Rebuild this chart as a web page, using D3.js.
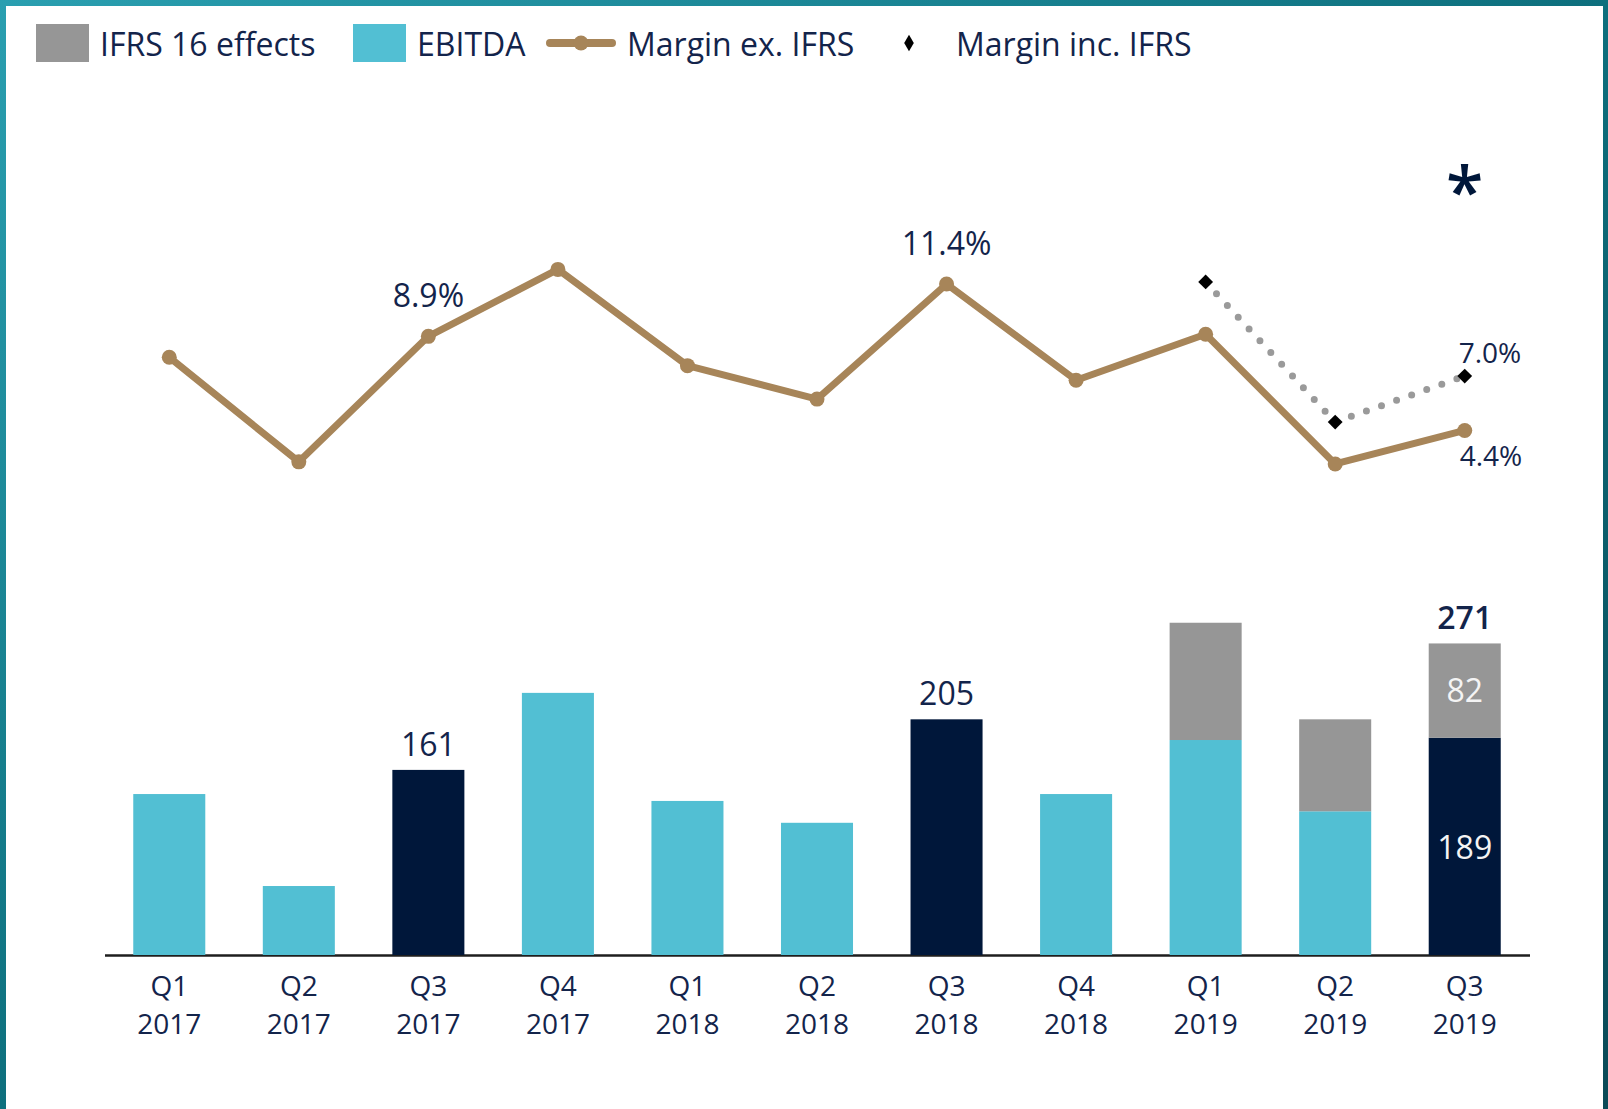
<!DOCTYPE html>
<html>
<head>
<meta charset="utf-8">
<script src="https://cdn.jsdelivr.net/npm/d3@7"></script>
<style>
  html, body { margin: 0; padding: 0; background: #0b5d6b; overflow: hidden; }
  svg { display: block; font-family: "Open Sans", "Noto Sans", sans-serif; }
</style>
</head>
<body>
<script>
'use strict';

// quarters on the x axis
const quarters = ["Q1", "Q2", "Q3", "Q4", "Q1", "Q2", "Q3", "Q4", "Q1", "Q2", "Q3"];
const years = ["2017", "2017", "2017", "2017", "2018", "2018", "2018", "2018", "2019", "2019", "2019"];

// bar values
const ebitda = [140, 60, 161, 228, 134, 115, 205, 140, 187, 125, 189];
const ifrsEffects = [0, 0, 0, 0, 0, 0, 0, 0, 102, 80, 82];

// margin lines (%)
const marginEx = [7.9, 2.9, 8.9, 12.1, 7.5, 5.9, 11.4, 6.8, 9.0, 2.8, 4.4];
const marginInc = [null, null, null, null, null, null, null, null, 11.5, 4.8, 7.0];

// legend entries
const legendNames = ["IFRS 16 effects", "EBITDA", "Margin ex. IFRS", "Margin inc. IFRS"];

(function() {

  let svgContainer = ""; // keep SVG reference in scope

  const colors = {
    ifrs: "#969696",
    ebitda: "#52BFD3",
    highlight: "#00173A",
    margin: "#A78559",
    dots: "#9A9A9A",
    text: "#13244B"
  };

  const keys = quarters.map((q, i) => q + " " + years[i]);

  window.onload = function() {
    svgContainer = d3.select('body')
      .append('svg')
      .attr('width', 1608)
      .attr('height', 1109);

    drawBackground();
    let scales = drawAxes();
    plotBars(scales);
    plotLines(scales);
    makeLegend();
  }

  // teal frame with white panel
  function drawBackground() {
    let grad = svgContainer.append('defs').append('linearGradient')
      .attr('id', 'sea')
      .attr('x1', 0).attr('y1', 0).attr('x2', 1).attr('y2', 1);
    grad.append('stop').attr('offset', '0%').attr('stop-color', '#2a9fb0');
    grad.append('stop').attr('offset', '50%').attr('stop-color', '#0d6f7d');
    grad.append('stop').attr('offset', '100%').attr('stop-color', '#0a4a57');

    svgContainer.append('rect')
      .attr('width', 1608).attr('height', 1109)
      .attr('fill', 'url(#sea)');

    svgContainer.append('rect')
      .attr('x', 6).attr('y', 6)
      .attr('width', 1597).attr('height', 1103)
      .attr('fill', '#ffffff');
  }

  // scales + baseline + category labels
  function drawAxes() {
    let xScale = d3.scaleBand()
      .domain(keys)
      .range([104.5, 1529.5])
      .paddingInner(0.444)
      .paddingOuter(0.222);

    let yBar = d3.scaleLinear()
      .domain([0, 300])
      .range([955, 610.1]);

    let yLine = d3.scaleLinear()
      .domain([0, 12])
      .range([522.5, 271.5]);

    let xAxis = d3.axisBottom(xScale).tickSize(0).tickFormat('');
    let axisG = svgContainer.append('g')
      .attr('transform', 'translate(0, 955)')
      .call(xAxis);
    axisG.select('.domain')
      .attr('stroke', '#1e1e1e')
      .attr('stroke-width', 2.5);

    // two-line tick labels
    let ticks = svgContainer.append('g').selectAll('text.tick')
      .data(keys)
      .enter()
      .append('text')
      .attr('text-anchor', 'middle')
      .attr('fill', colors.text)
      .style('font-size', '28px')
      .attr('transform', (d) => 'translate(' + (xScale(d) + xScale.bandwidth() / 2) + ',0)');
    ticks.append('tspan').attr('x', 0).attr('y', 996).text((d, i) => quarters[i]);
    ticks.append('tspan').attr('x', 0).attr('y', 1034).text((d, i) => years[i]);

    return { x: xScale, yBar: yBar, yLine: yLine };
  }

  function plotBars(s) {
    let cx = (i) => s.x(keys[i]) + s.x.bandwidth() / 2;
    let rows = keys.map((k, i) => ({ key: k, i: i, e: ebitda[i], f: ifrsEffects[i] }));

    // EBITDA bars
    svgContainer.append('g').selectAll('rect')
      .data(rows)
      .enter()
      .append('rect')
        .attr('x', (d) => s.x(d.key))
        .attr('width', s.x.bandwidth())
        .attr('y', (d) => s.yBar(d.e))
        .attr('height', (d) => s.yBar(0) - s.yBar(d.e))
        .attr('fill', (d) => quarters[d.i] === "Q3" ? colors.highlight : colors.ebitda);

    // IFRS 16 stacked on top
    svgContainer.append('g').selectAll('rect')
      .data(rows.filter((d) => d.f > 0))
      .enter()
      .append('rect')
        .attr('x', (d) => s.x(d.key))
        .attr('width', s.x.bandwidth())
        .attr('y', (d) => s.yBar(d.e + d.f))
        .attr('height', (d) => s.yBar(d.e) - s.yBar(d.e + d.f))
        .attr('fill', colors.ifrs);

    // totals above the Q3 bars
    let q3 = rows.filter((d) => quarters[d.i] === "Q3");
    svgContainer.append('g').selectAll('text')
      .data(q3)
      .enter()
      .append('text')
        .attr('x', (d) => cx(d.i))
        .attr('y', (d) => s.yBar(d.e + d.f) - 14)
        .attr('text-anchor', 'middle')
        .attr('fill', colors.text)
        .style('font-size', '32px')
        .style('font-weight', (d) => d.f > 0 ? 600 : 'normal')
        .text((d) => d.e + d.f);

    // split values inside the last bar
    let last = rows.filter((d) => quarters[d.i] === "Q3" && d.f > 0);
    svgContainer.append('g').selectAll('text')
      .data(last)
      .enter()
      .append('text')
        .attr('x', (d) => cx(d.i))
        .attr('y', (d) => (s.yBar(d.e) + s.yBar(d.e + d.f)) / 2 + 11.5)
        .attr('text-anchor', 'middle')
        .attr('fill', '#f4f4f4')
        .style('font-size', '32px')
        .text((d) => d.f);
    svgContainer.append('g').selectAll('text')
      .data(last)
      .enter()
      .append('text')
        .attr('x', (d) => cx(d.i))
        .attr('y', (d) => (s.yBar(0) + s.yBar(d.e)) / 2 + 13)
        .attr('text-anchor', 'middle')
        .attr('fill', '#f4f4f4')
        .style('font-size', '32px')
        .text((d) => d.e);
  }

  function plotLines(s) {
    let cx = (i) => s.x(keys[i]) + s.x.bandwidth() / 2;
    let fmt = (v) => d3.format('.1f')(v) + '%';

    // dotted margin inc. IFRS
    let incPts = marginInc.map((v, i) => ({ i: i, v: v })).filter((d) => d.v !== null);
    let line = d3.line().x((d) => cx(d.i)).y((d) => s.yLine(d.v));

    svgContainer.append('path')
      .datum(incPts)
      .attr('d', line)
      .attr('fill', 'none')
      .attr('stroke', colors.dots)
      .attr('stroke-width', 7)
      .attr('stroke-linecap', 'round')
      .attr('stroke-dasharray', '0 16');

    // solid margin ex. IFRS
    let exPts = marginEx.map((v, i) => ({ i: i, v: v }));
    svgContainer.append('path')
      .datum(exPts)
      .attr('d', line)
      .attr('fill', 'none')
      .attr('stroke', colors.margin)
      .attr('stroke-width', 7)
      .attr('stroke-linejoin', 'round');

    svgContainer.append('g').selectAll('circle')
      .data(exPts)
      .enter()
      .append('circle')
        .attr('cx', (d) => cx(d.i))
        .attr('cy', (d) => s.yLine(d.v))
        .attr('r', 7.5)
        .attr('fill', colors.margin);

    // diamonds
    svgContainer.append('g').selectAll('path')
      .data(incPts)
      .enter()
      .append('path')
        .attr('d', d3.symbol(d3.symbolSquare, 110))
        .attr('transform', (d) => 'translate(' + cx(d.i) + ',' + s.yLine(d.v) + ') rotate(45)')
        .attr('fill', '#000000');

    // labels on the Q3 points
    let labelled = [2, 6];
    svgContainer.append('g').selectAll('text')
      .data(labelled)
      .enter()
      .append('text')
        .attr('x', (i) => cx(i))
        .attr('y', (i) => s.yLine(marginEx[i]) - 29)
        .attr('text-anchor', 'middle')
        .attr('fill', colors.text)
        .style('font-size', '32px')
        .text((i) => fmt(marginEx[i]));

    let n = marginEx.length - 1;
    svgContainer.append('text')
      .attr('x', cx(n) - 5)
      .attr('y', s.yLine(marginEx[n]) + 36)
      .attr('fill', colors.text)
      .style('font-size', '28px')
      .text(fmt(marginEx[n]));

    svgContainer.append('text')
      .attr('x', cx(n) - 6)
      .attr('y', s.yLine(marginInc[n]) - 13)
      .attr('fill', colors.text)
      .style('font-size', '28px')
      .text(fmt(marginInc[n]));

    // footnote asterisk over the last quarter
    svgContainer.append('text')
      .attr('x', cx(n))
      .attr('y', 216)
      .attr('text-anchor', 'middle')
      .attr('fill', colors.highlight)
      .style('font-size', '68px')
      .style('font-weight', 600)
      .text('*');
  }

  function makeLegend() {
    let g = svgContainer.append('g');
    let textX = [100, 417, 627, 956];

    g.append('rect').attr('x', 36).attr('y', 24).attr('width', 53).attr('height', 38).attr('fill', colors.ifrs);
    g.append('rect').attr('x', 353).attr('y', 24).attr('width', 53).attr('height', 38).attr('fill', colors.ebitda);

    g.append('line')
      .attr('x1', 550).attr('x2', 612).attr('y1', 43).attr('y2', 43)
      .attr('stroke', colors.margin).attr('stroke-width', 8).attr('stroke-linecap', 'round');
    g.append('circle').attr('cx', 581).attr('cy', 43).attr('r', 7.5).attr('fill', colors.margin);

    g.append('path')
      .attr('d', d3.symbol(d3.symbolDiamond, 80))
      .attr('transform', 'translate(909,43)')
      .attr('fill', '#000000');

    g.selectAll('text')
      .data(legendNames)
      .enter()
      .append('text')
        .attr('x', (d, i) => textX[i])
        .attr('y', 56)
        .attr('fill', colors.text)
        .style('font-size', '32px')
        .text((d) => d);
  }

})();
</script>
</body>
</html>
